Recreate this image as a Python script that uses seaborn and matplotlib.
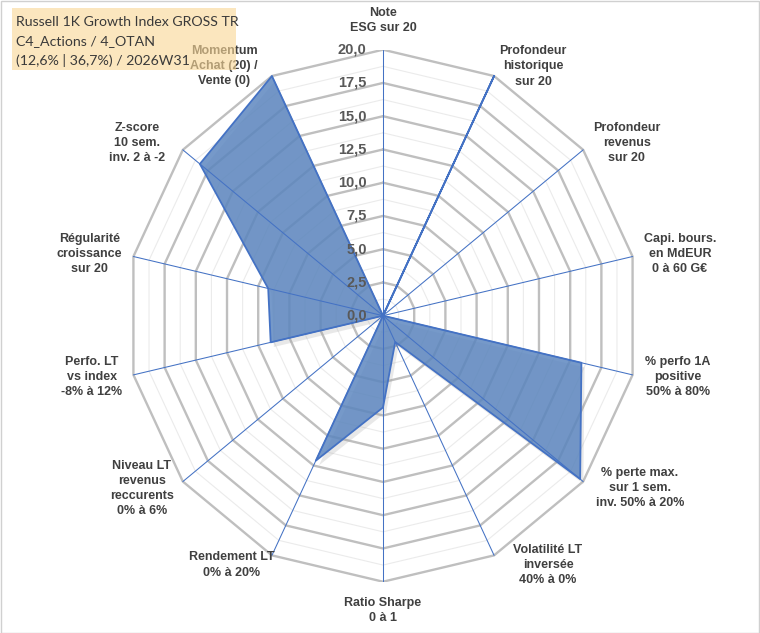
import numpy as np
import matplotlib
matplotlib.use("Agg")
import matplotlib.pyplot as plt
import seaborn as sns
from matplotlib.patches import Rectangle

# ---------------- data ----------------
categories = [
    "Note\nESG sur 20",
    "Profondeur\nhistorique\nsur 20",
    "Profondeur\nrevenus\nsur 20",
    "Capi. bours.\nen MdEUR\n0 à 60 G€",
    "% perfo 1A\npositive\n50% à 80%",
    "% perte max.\nsur 1 sem.\ninv. 50% à 20%",
    "Volatilité LT\ninversée\n40% à 0%",
    "Ratio Sharpe\n0 à 1",
    "Rendement LT\n0% à 20%",
    "Niveau LT\nrevenus\nreccurents\n0% à 6%",
    "Perfo. LT\nvs index\n-8% à 12%",
    "Régularité\ncroissance\nsur 20",
    "Z-score\n10 sem.\ninv. 2 à -2",
    "Momentum\nAchat (20) /\nVente (0)",
]
values = [0, 20, 0, 0, 15.9, 19.7, 2.2, 6.9, 12.1, 0, 9.0, 9.2, 18.3, 20]
tick_values = [0, 2.5, 5, 7.5, 10, 12.5, 15, 17.5, 20]
tick_labels = ["0,0", "2,5", "5,0", "7,5", "10,0", "12,5", "15,0", "17,5", "20,0"]
title_lines = ["Russell 1K Growth Index GROSS TR",
               "C4_Actions / 4_OTAN",
               "(12,6% | 36,7%) / 2026W31"]

# ---------------- layout (pixels of the 760x633 picture) ----------------
W, H = 760, 633
CX, CY = 383, 315.7        # chart centre
RX, RY = 256, 266          # pixel radius of the value 20 (horizontal / vertical)
label_px = [(383, 20.5), (533, 66.5), (626.7, 143), (680, 254), (677.7, 377),
            (640, 488), (548, 565), (383, 610.7), (232, 565), (141.7, 488.5),
            (91.7, 377), (89.3, 254), (137.3, 143), (224, 65.8)]

sns.set_theme(style="white")
plt.rcParams["font.family"] = ["Liberation Sans", "DejaVu Sans"]

fig = plt.figure(figsize=(W / 100, H / 100), dpi=100)
fig.patch.set_facecolor("white")
ax = fig.add_axes([(CX - RX) / W, (H - CY - RY) / H, 2 * RX / W, 2 * RY / H])
ax.set_xlim(-20, 20)
ax.set_ylim(-20, 20)
ax.set_aspect("auto")
ax.axis("off")

n = len(categories)
theta = np.arange(n) * 2 * np.pi / n
sx, sy = np.sin(theta), np.cos(theta)
sx_c, sy_c = np.append(sx, sx[0]), np.append(sy, sy[0])

# rings (minor every 1.25, major every 2.5)
for r in np.arange(1.25, 20.001, 1.25):
    major = abs(r / 2.5 - round(r / 2.5)) < 1e-9
    ax.plot(r * sx_c, r * sy_c,
            color="#BFBFBF" if major else "#EBEBEB",
            lw=1.7 if major else 0.8, zorder=1, solid_joinstyle="miter")

# data polygon
v = np.array(values, dtype=float)
vx, vy = np.append(v * sx, v[0] * sx[0]), np.append(v * sy, v[0] * sy[0])
ax.fill(vx + 0.25, vy - 0.35, color="#9A9A9A", alpha=0.22, lw=0, zorder=1.5)
ax.fill(vx, vy, color="#5A85BF", alpha=0.83, lw=0, zorder=2)
ax.plot(vx, vy, color="#4472C4", lw=1.3, zorder=4)

# spokes
for k in range(n):
    ax.plot([0, 20 * sx[k]], [0, 20 * sy[k]], color="#4472C4", lw=0.75, zorder=3)

# value tick labels
for tv, tl in zip(tick_values, tick_labels):
    ax.text(-1.27, tv, tl, ha="right", va="center", fontsize=10.5,
            fontweight="bold", color="#595959", zorder=5)

# category labels
for lab, (px, py) in zip(categories, label_px):
    ax.text((px - CX) / RX * 20, (CY - py) / RY * 20, lab, ha="center",
            va="center", fontsize=9, fontweight="bold", color="#404040",
            linespacing=1.35, clip_on=False, zorder=5)

# title box (semi-transparent, drawn over the Momentum label as in the original)
fig.patches.append(Rectangle((11.7 / W, (H - 70) / H), 224.3 / W, 61.7 / H,
                             transform=fig.transFigure,
                             facecolor=(250 / 255, 215 / 255, 150 / 255),
                             alpha=0.62, edgecolor="none", zorder=10))
for i, line in enumerate(title_lines):
    fig.text(15.7 / W, (H - 21.7 - i * 19.2) / H, line, ha="left", va="center",
             fontsize=10.2, color="#3A3A3A", family=["Lato", "DejaVu Sans"],
             zorder=11)

# outer frame
fig.patches.append(Rectangle((0.5 / W, 0.5 / H), (W - 1.5) / W, (H - 1.5) / H,
                             transform=fig.transFigure, fill=False,
                             edgecolor="#D0D0D0", lw=1, zorder=12))

fig.savefig("out.png", dpi=100)
